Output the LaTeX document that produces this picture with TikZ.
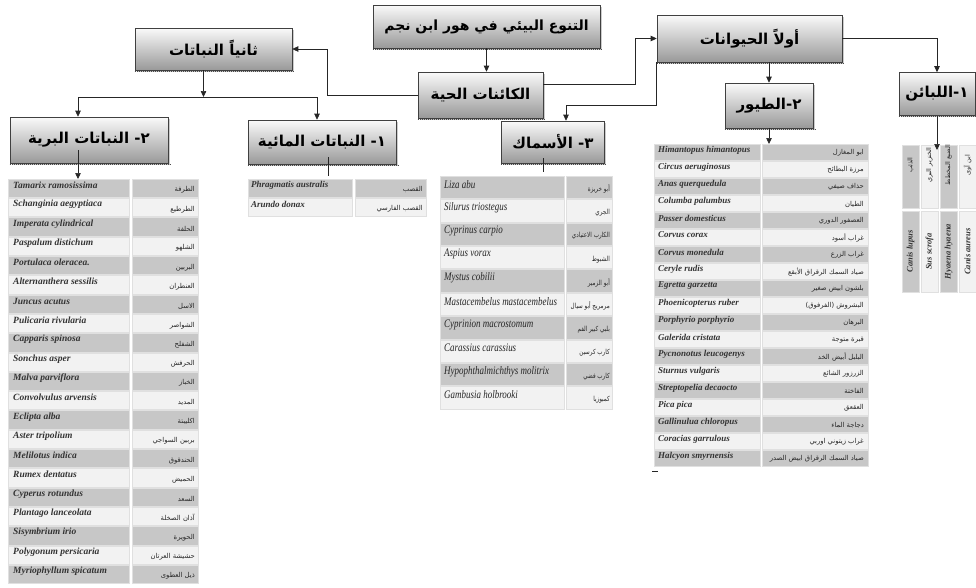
\documentclass[tikz,border=0pt]{standalone}
\usepackage{fontspec}
\usepackage{graphicx}
\setmainfont{Liberation Serif}
\newfontfamily\arabicfont[Script=Arabic]{DejaVu Sans}
\TeXXeTstate=1
\usetikzlibrary{calc,arrows.meta,shadows}
\newcommand\ar[1]{{\arabicfont\beginR #1\endR}}
\tikzset{
  box/.style={draw=black!75, line width=0.6pt, top color=black!2, bottom color=black!40,
    drop shadow={shadow xshift=1.5pt, shadow yshift=-1.5pt, fill=black!40},
    font=\arabicfont\bfseries\fontsize{15}{17}\selectfont, inner sep=2pt},
  arr/.style={-{Triangle[length=6pt,width=5.5pt]}, line width=0.7pt, black!85},
  ln/.style={line width=0.7pt, black!85},
  cell/.style={draw=black!12, line width=0.4pt, inner sep=0pt, outer sep=0pt},
  lat/.style={font=\fontsize{9.5}{10}\selectfont\bfseries\itshape, anchor=west, inner sep=0pt, text=black!80},
  blat/.style={font=\fontsize{9}{10}\selectfont\bfseries\itshape, anchor=west, inner sep=0pt, text=black!80},
  flat/.style={font=\fontsize{11.5}{12}\selectfont\itshape, anchor=west, inner sep=0pt, text=black!85},
  arb/.style={font=\arabicfont\fontsize{6.8}{8}\selectfont, anchor=east, inner sep=0pt, text=black!85},
  farb/.style={font=\arabicfont\fontsize{7}{8}\selectfont, anchor=east, inner sep=0pt, text=black!85},
}
\begin{document}
\begin{tikzpicture}[x=1pt,y=-1pt]
\useasboundingbox (0,0) rectangle (976,587);
\clip (0,0) rectangle (976,587);

% ---------- header boxes ----------
\node[box, minimum width=227pt, minimum height=43pt, font=\arabicfont\bfseries\fontsize{14}{16}\selectfont] (T) at (486.5,26.5) {\ar{التنوع البيئي في هور ابن نجم}};
\node[box, minimum width=125pt, minimum height=46pt] (L) at (480.5,95) {\ar{الكائنات الحية}};
\node[box, minimum width=157pt, minimum height=42pt] (P) at (213.5,49) {\ar{ثانياً النباتات}};
\node[box, minimum width=185pt, minimum height=47pt] (A) at (749.5,38.5) {\ar{أولاً الحيوانات}};
\node[box, minimum width=76pt, minimum height=43pt] (M) at (937,94) {\ar{١-اللبائن}};
\node[box, minimum width=88pt, minimum height=45pt] (B) at (769,105.5) {\ar{٢-الطيور}};
\node[box, minimum width=103pt, minimum height=42pt] (F) at (553,142) {\ar{٣- الأسماك}};
\node[box, minimum width=148pt, minimum height=44pt] (W) at (322,142) {\ar{١- النباتات المائية}};
\node[box, minimum width=158pt, minimum height=46pt] (R) at (89,140) {\ar{٢- النباتات البرية}};
\foreach \n in {T,L,P,A,M,B,F,W,R}
  \draw[black!70, line width=1pt, dash pattern=on 1pt off 1pt] ($(\n.south west)+(0,1)$) -- ($(\n.south east)+(1.5,1)$);

% ---------- wild plants table ----------
\foreach \la/\ab [count=\i from 0] in {
 Tamarix ramosissima/الطرفة, Schanginia  aegyptiaca/الطرطيع, Imperata cylindrical/الحلفة,
 Paspalum distichum/الشلهو, Portulaca oleracea./البربين, Alternanthera sessilis/العنطران,
 Juncus acutus/الاسل, Pulicaria rivularia/الشواصر, Capparis spinosa/الشفلح,
 Sonchus asper/الحرفش, Malva parviflora/الخباز, Convolvulus arvensis/المديد,
 Eclipta alba/اكليبتة, Aster tripolium/بربين السواجي, Melilotus indica/الحندقوق,
 Rumex dentatus/الحميض, Cyperus rotundus/السعد, Plantago lanceolata/آذان الصخلة,
 Sisymbrium irio/الحويرة, Polygonum persicaria/حشيشة العرتان, Myriophyllum spicatum/ذيل العطوى}{
  \pgfmathsetmacro\yy{179+\i*19.3}
  \pgfmathtruncatemacro\odd{mod(\i,2)}
  \ifnum\odd=0 \def\cf{black!22}\else\def\cf{black!5}\fi
  \node[cell, fill=\cf, minimum width=121pt, minimum height=18.3pt, anchor=north west] (rn\i) at (8,\yy) {};
  \node[cell, fill=\cf, minimum width=66pt, minimum height=18.3pt, anchor=north west] (ra\i) at (132,\yy) {};
  \node[lat] (rt\i) at ($(rn\i.west)+(5,-3)$) {\la};
  \node[arb] (rs\i) at ($(ra\i.east)+(-3,2)$) {\ar{\ab}};
}

% ---------- water plants table ----------
\foreach \la/\ab [count=\i from 0] in {Phragmatis australis/القصب, Arundo donax/القصب الفارسي}{
  \pgfmathsetmacro\yy{179+\i*19.3}
  \pgfmathtruncatemacro\odd{mod(\i,2)}
  \ifnum\odd=0 \def\cf{black!22}\else\def\cf{black!5}\fi
  \node[cell, fill=\cf, minimum width=104pt, minimum height=18.3pt, anchor=north west] (wn\i) at (248,\yy) {};
  \node[cell, fill=\cf, minimum width=71pt, minimum height=18.3pt, anchor=north west] (wa\i) at (355,\yy) {};
  \node[lat, font=\fontsize{9}{10}\selectfont\bfseries\itshape] (wt\i) at ($(wn\i.west)+(3,-3)$) {\la};
  \node[arb] (ws\i) at ($(wa\i.east)+(-3,1)$) {\ar{\ab}};
}

% ---------- fish table ----------
\foreach \la/\ab [count=\i from 0] in {
 Liza abu/أبو خريزة, Silurus triostegus/الجري, Cyprinus carpio/الكارب الاعتيادي,
 Aspius  vorax/الشبوط, Mystus  cobilii/أبو الزمير, Mastacembelus mastacembelus/مرمريج أبو سيال,
 Cyprinion macrostomum/بلبي كبير الفم, Carassius carassius/كارب كرسين,
 Hypophthalmichthys  molitrix/كارب فضي, Gambusia holbrooki/كمبوزيا}{
  \pgfmathsetmacro\yy{176+\i*23.4}
  \pgfmathtruncatemacro\odd{mod(\i,2)}
  \ifnum\odd=0 \def\cf{black!22}\else\def\cf{black!5}\fi
  \node[cell, fill=\cf, minimum width=124pt, minimum height=22.4pt, anchor=north west] (fn\i) at (440,\yy) {};
  \node[cell, fill=\cf, minimum width=46pt, minimum height=22.4pt, anchor=north west] (fa\i) at (566,\yy) {};
  \node[flat] (ft\i) at ($(fn\i.west)+(4,-3)$) {\scalebox{0.78}[1]{\la}};
  \node[farb] (fs\i) at ($(fa\i.east)+(-2,2)$) {\scalebox{0.8}[1]{\ar{\ab}}};
}

% ---------- birds table ----------
\foreach \la/\ab [count=\i from 0] in {
 Himantopus himantopus/ابو المغازل, Circus aeruginosus/مرزة البطائح, Anas querquedula/حذاف صيفي,
 Columba  palumbus/الطيان, Passer domesticus/العصفور الدوري, Corvus corax/غراب أسود,
 Corvus monedula/غراب الزرع, Ceryle  rudis/صياد السمك الرقراق الأبقع, Egretta  garzetta/بلشون ابيض صغير,
 Phoenicopterus ruber/البشروش (الفرفوق), Porphyrio  porphyrio/البرهان, Galerida cristata/قبرة متوجة,
 Pycnonotus leucogenys/البلبل أبيض الخد, Sturnus vulgaris/الزرزور الشائع, Streptopelia decaocto/الفاختة,
 Pica pica/العقعق, Gallinulua chloropus/دجاجة الماء, Coracias garrulous/غراب زيتوني اوربي,
 Halcyon smyrnensis/صياد السمك الرقراق ابيض الصدر}{
  \pgfmathsetmacro\yy{144+\i*17}
  \pgfmathtruncatemacro\odd{mod(\i,2)}
  \ifnum\odd=0 \def\cf{black!22}\else\def\cf{black!5}\fi
  \node[cell, fill=\cf, minimum width=106pt, minimum height=16pt, anchor=north west] (bn\i) at (654,\yy) {};
  \node[cell, fill=\cf, minimum width=106pt, minimum height=16pt, anchor=north west] (ba\i) at (762,\yy) {};
  \node[blat] (bt\i) at ($(bn\i.west)+(4,-2)$) {\la};
  \node[arb] (bs\i) at ($(ba\i.east)+(-4,1)$) {\ar{\ab}};
}
\draw[ln] (652,471) -- (658,471);

% ---------- mammals table ----------
\foreach \la/\ab [count=\i from 0] in {Canis lupus/الذئب, Sus scrofa/الخنزير البري, Hyaena hyaena/الضبع المخطط, Canis aureus/ابن آوى}{
  \pgfmathsetmacro\xx{902+\i*19}
  \pgfmathtruncatemacro\odd{mod(\i,2)}
  \ifnum\odd=0 \def\cf{black!22}\else\def\cf{black!5}\fi
  \node[cell, fill=\cf, minimum width=17pt, minimum height=63pt, anchor=north west] (mt\i) at (\xx,145) {};
  \node[cell, fill=\cf, minimum width=17pt, minimum height=81pt, anchor=north west] (mb\i) at (\xx,211) {};
  \node[font=\arabicfont\fontsize{6.5}{7}\selectfont, rotate=90, inner sep=0pt, text=black!85] (ms\i) at ($(mt\i.north)+(0,20)$) {\ar{\ab}};
  \node[font=\fontsize{8.5}{9}\selectfont\bfseries\itshape, rotate=90, inner sep=0pt, text=black!80] (ml\i) at (mb\i.center) {\la};
}

% ---------- connectors ----------
\draw[arr] (T.south) -- (T.south |- L.north);
\draw[arr] (L.west) -- ++(-90,0) |- (P.east);
\coordinate (la) at ($(L.north east)+(0,13)$);
\draw[arr] (la) -- ++(92,0) |- (A.west);
\coordinate (fk) at ($(F.north)+(13,0)$);
\draw[arr] (A.south west) -- ++(0,43) -| (fk);
\draw[arr] (A.south -| B.north) -- (B.north);
\draw[arr] (A.east) -| (M.north);
\coordinate (bl) at (78,97);
\coordinate (br) at (317,97);
\coordinate (pk) at ($(P.south)+(-10,0)$);
\draw[ln] (bl) -- (br);
\draw[arr] (pk) -- (pk |- bl);
\draw[arr] (bl) -- (bl |- R.north);
\draw[arr] (br) -- (br |- W.north);
\draw[arr] ($(bl |- R.center)+(0,10)$) -- (bl |- rn0.north);
\draw[ln] ($(W.south)+(6,-7)$) -- ($(W.south)+(6,12)$);
\draw[ln] ($(F.south)+(-10,-5)$) -- ($(F.south)+(-10,9)$);
\draw[arr] (B.south) -- (B.south |- bn0.north);
\draw[arr] (M.south) -- ($(M.south |- mt1.north)+(0,5)$);
\end{tikzpicture}
\end{document}
